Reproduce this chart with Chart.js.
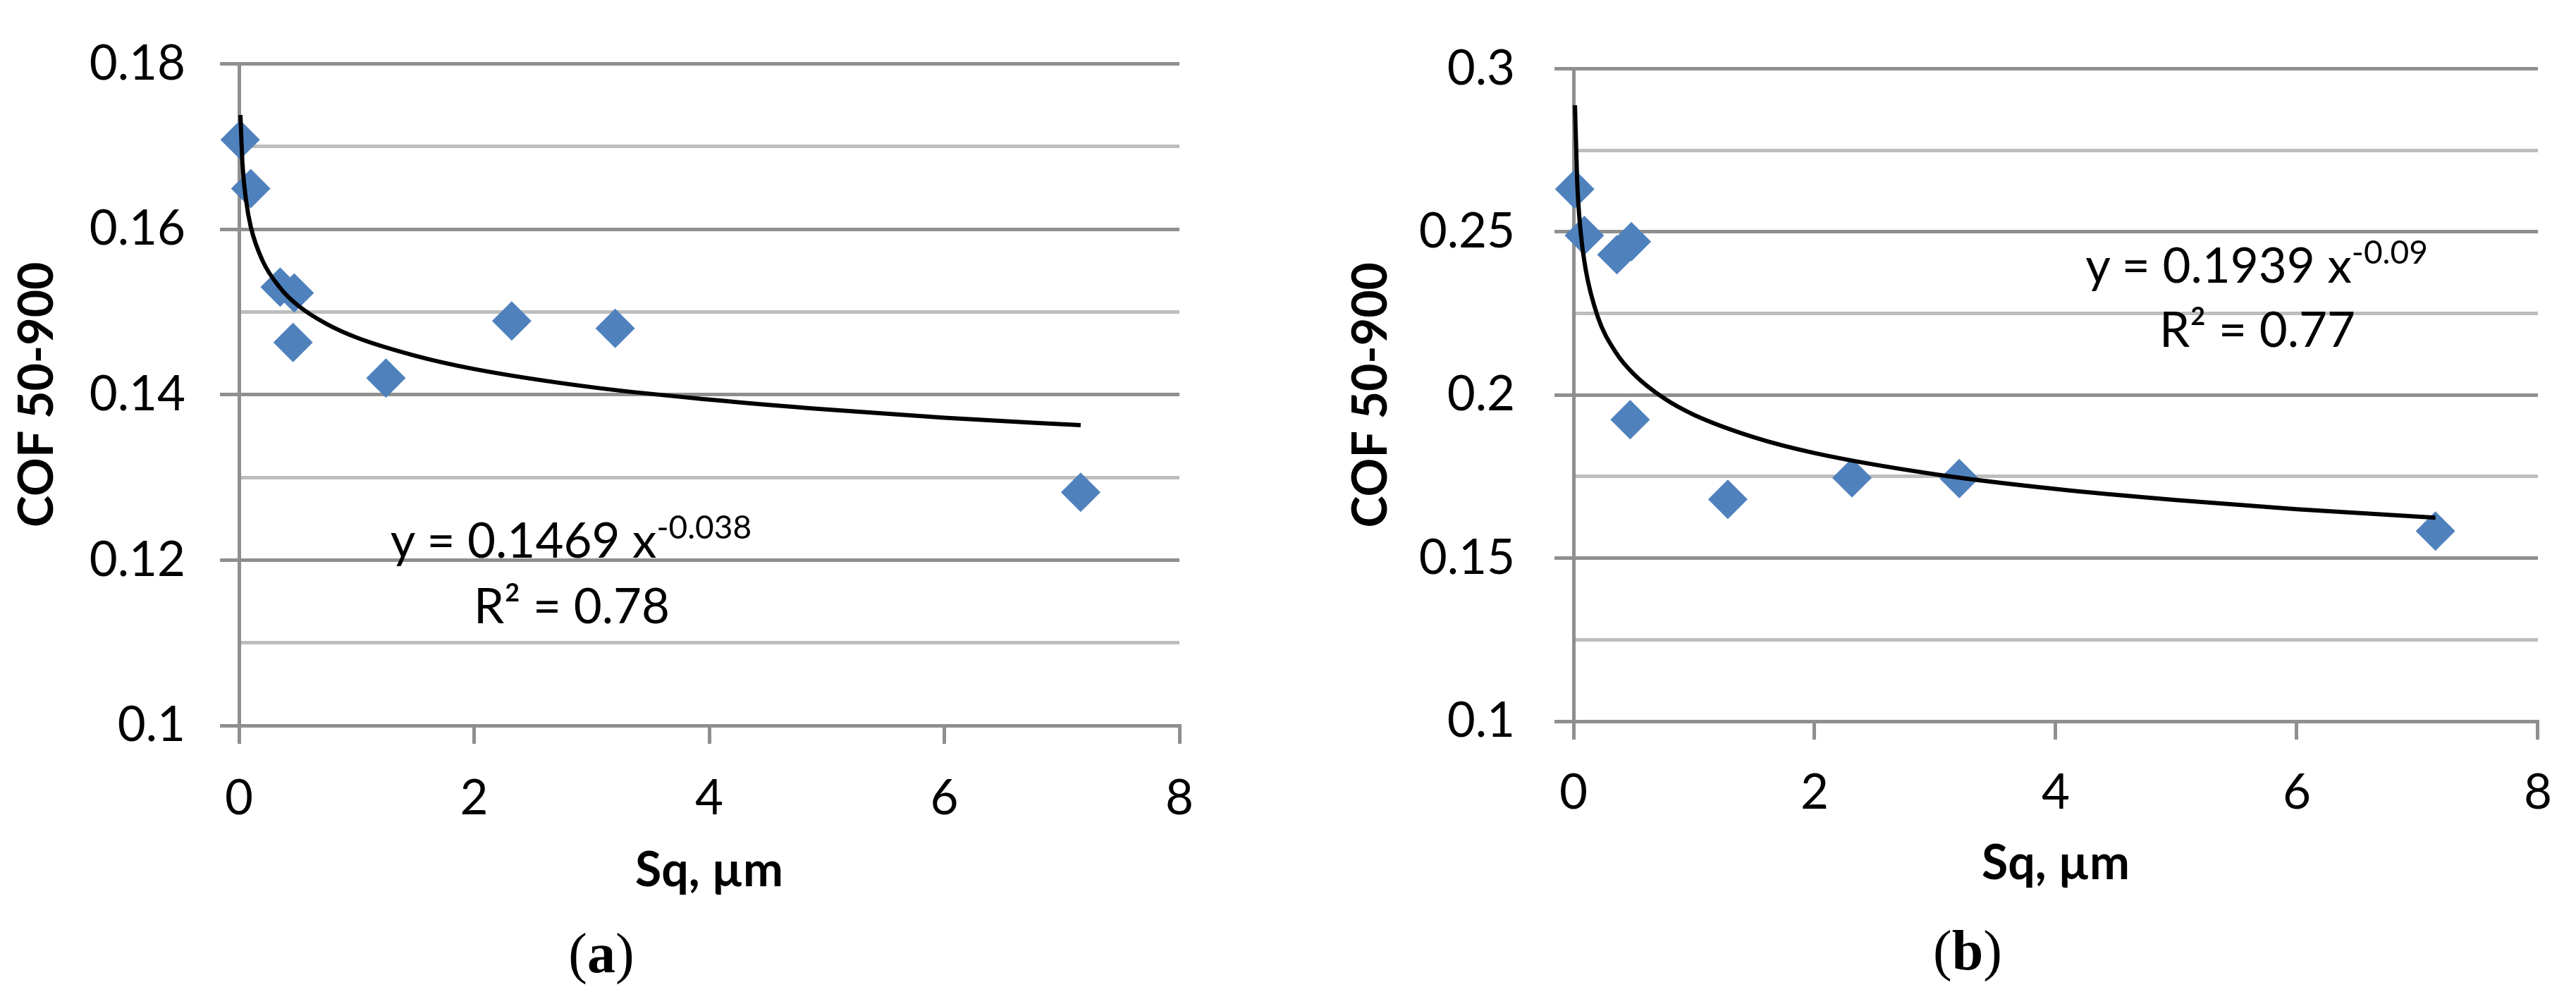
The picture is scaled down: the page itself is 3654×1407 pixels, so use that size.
<!DOCTYPE html>
<html>
<head>
<meta charset="utf-8">
<script src="https://cdn.jsdelivr.net/npm/chart.js@4.4.1/dist/chart.umd.min.js"></script>
<style>
  body { margin: 0; background: #fff; width: 3654px; height: 1407px; position: relative; overflow: hidden; font-family: Lato, sans-serif; }
  canvas { position: absolute; top: 0; }
  #chartA { left: 0; }
  #chartB { left: 1800px; }
  .eq { position: absolute; font-size: 69px; line-height: 1; color: #000; white-space: nowrap; transform: translate(-50%, -50%); }
  .eq sup { font-size: 46px; vertical-align: baseline; position: relative; top: -27px; }
  .cap { position: absolute; font-family: "Liberation Serif", serif; font-size: 80px; line-height: 1; color: #000; transform: translate(-50%, -50%); }
</style>
</head>
<body>
<canvas id="chartA" width="1800" height="1407"></canvas>
<canvas id="chartB" width="1854" height="1407"></canvas>

<div class="eq" style="left:810px; top:764px;">y = 0.1469 x<sup>-0.038</sup></div>
<div class="eq" style="left:811px; top:857px;">R² = 0.78</div>
<div class="eq" style="left:3201px; top:374px;">y = 0.1939 x<sup>-0.09</sup></div>
<div class="eq" style="left:3202px; top:465px;">R² = 0.77</div>
<div class="cap" style="left:853px; top:1352px;">(<b>a</b>)</div>
<div class="cap" style="left:2791px; top:1348px;">(<b>b</b>)</div>

<script>
// (a) measured points
const sqA = [0.01, 0.10, 0.35, 0.47, 0.46, 1.25, 2.32, 3.20, 7.16];
const cofA = [0.1708, 0.1649, 0.1530, 0.1523, 0.1463, 0.1420, 0.1489, 0.1480, 0.1282];
// (a) power trendline
const trendSqA = [0.012, 0.03, 0.06, 0.1, 0.2, 0.35, 0.5, 0.75, 1, 1.5, 2, 3, 4, 5, 6, 7.16];
const trendCofA = [0.1738, 0.1678, 0.1635, 0.1603, 0.1562, 0.1529, 0.1508, 0.1485, 0.1469, 0.1447, 0.1431, 0.1409, 0.1394, 0.1382, 0.1372, 0.1363];

// (b) measured points
const sqB = [0.01, 0.09, 0.36, 0.48, 0.47, 1.28, 2.31, 3.20, 7.15];
const cofB = [0.2631, 0.2489, 0.2430, 0.2470, 0.1924, 0.1680, 0.1746, 0.1744, 0.1583];
// (b) power trendline
const trendSqB = [0.012, 0.03, 0.06, 0.1, 0.2, 0.35, 0.5, 0.75, 1, 1.5, 2, 3, 4, 5, 6, 7.15];
const trendCofB = [0.2888, 0.2658, 0.2497, 0.2386, 0.2241, 0.2131, 0.2064, 0.1990, 0.1939, 0.1870, 0.1822, 0.1757, 0.1712, 0.1678, 0.1650, 0.1624];

// axes
const xTicks = [0, 2, 4, 6, 8];
const yGridA = [0.1, 0.11, 0.12, 0.13, 0.14, 0.15, 0.16, 0.17, 0.18];
const yLabelsA = ['0.1', '0.12', '0.14', '0.16', '0.18'];
const yGridB = [0.1, 0.125, 0.15, 0.175, 0.2, 0.225, 0.25, 0.275, 0.3];
const yLabelsB = ['0.1', '0.15', '0.2', '0.25', '0.3'];

const majorGray = '#8f8f8f';
const minorGray = '#bdbdbd';
const blue = '#4f81bd';
const tickFont = { family: 'Lato', size: 69 };
const titleFont = { family: 'Lato', size: 68, weight: 'bold' };

function toPoints(xs, ys) {
  return xs.map((x, i) => ({ x: x, y: ys[i] }));
}

function makeChart(id, o) {
  return new Chart(document.getElementById(id), {
    type: 'scatter',
    data: {
      datasets: [
        {
          type: 'line',
          data: toPoints(o.trendX, o.trendY),
          borderColor: '#000',
          borderWidth: 6,
          pointRadius: 0,
          fill: false,
          cubicInterpolationMode: 'monotone',
          clip: false
        },
        {
          data: toPoints(o.x, o.y),
          backgroundColor: blue,
          borderWidth: 0,
          pointStyle: 'rectRot',
          pointRadius: 28,
          clip: false
        }
      ]
    },
    options: {
      responsive: false,
      animation: false,
      devicePixelRatio: 1,
      events: [],
      layout: { padding: o.pad },
      plugins: { legend: { display: false }, tooltip: { enabled: false } },
      scales: {
        x: {
          type: 'linear', min: 0, max: 8,
          afterBuildTicks: s => { s.ticks = xTicks.map(v => ({ value: v })); },
          afterFit: s => { s.height = 260; },
          border: { color: majorGray, width: 5 },
          grid: { drawOnChartArea: false, drawTicks: true, tickLength: 26, color: majorGray, lineWidth: 5 },
          ticks: { font: tickFont, color: '#000', padding: o.xPad, maxRotation: 0, autoSkip: false,
                   callback: (v, i) => String(xTicks[i]) },
          title: { display: true, text: 'Sq, µm', font: titleFont, color: '#000', padding: { top: 0, bottom: o.xTitlePad } }
        },
        y: {
          type: 'linear', min: o.grid[0], max: o.grid[o.grid.length - 1],
          afterBuildTicks: s => { s.ticks = o.grid.map(v => ({ value: v })); },
          afterFit: s => { s.width = o.yWidth; },
          border: { color: majorGray, width: 5 },
          grid: {
            color: c => c.index % 2 === 0 ? majorGray : minorGray,
            tickColor: c => c.index % 2 === 0 ? majorGray : 'rgba(0,0,0,0)',
            lineWidth: 5,
            tickLength: 27
          },
          ticks: { font: tickFont, color: '#000', padding: o.yPad, autoSkip: false,
                   callback: (v, i) => i % 2 === 0 ? o.labels[i / 2] : '' },
          title: { display: true, text: 'COF 50-900', font: titleFont, color: '#000', padding: { top: o.yTitlePad, bottom: 0 } }
        }
      }
    }
  });
}

makeChart('chartA', {
  x: sqA, y: cofA, trendX: trendSqA, trendY: trendCofA,
  grid: yGridA, labels: yLabelsA,
  pad: { left: 0, top: 61, right: 127, bottom: 118 },
  yWidth: 339, yPad: 49, yTitlePad: 12, xPad: 36, xTitlePad: 13
});

makeChart('chartB', {
  x: sqB, y: cofB, trendX: trendSqB, trendY: trendCofB,
  grid: yGridB, labels: yLabelsB,
  pad: { left: 0, top: 53, right: 45, bottom: 124 },
  yWidth: 432, yPad: 56, yTitlePad: 104, xPad: 34, xTitlePad: 17
});
</script>
</body>
</html>
